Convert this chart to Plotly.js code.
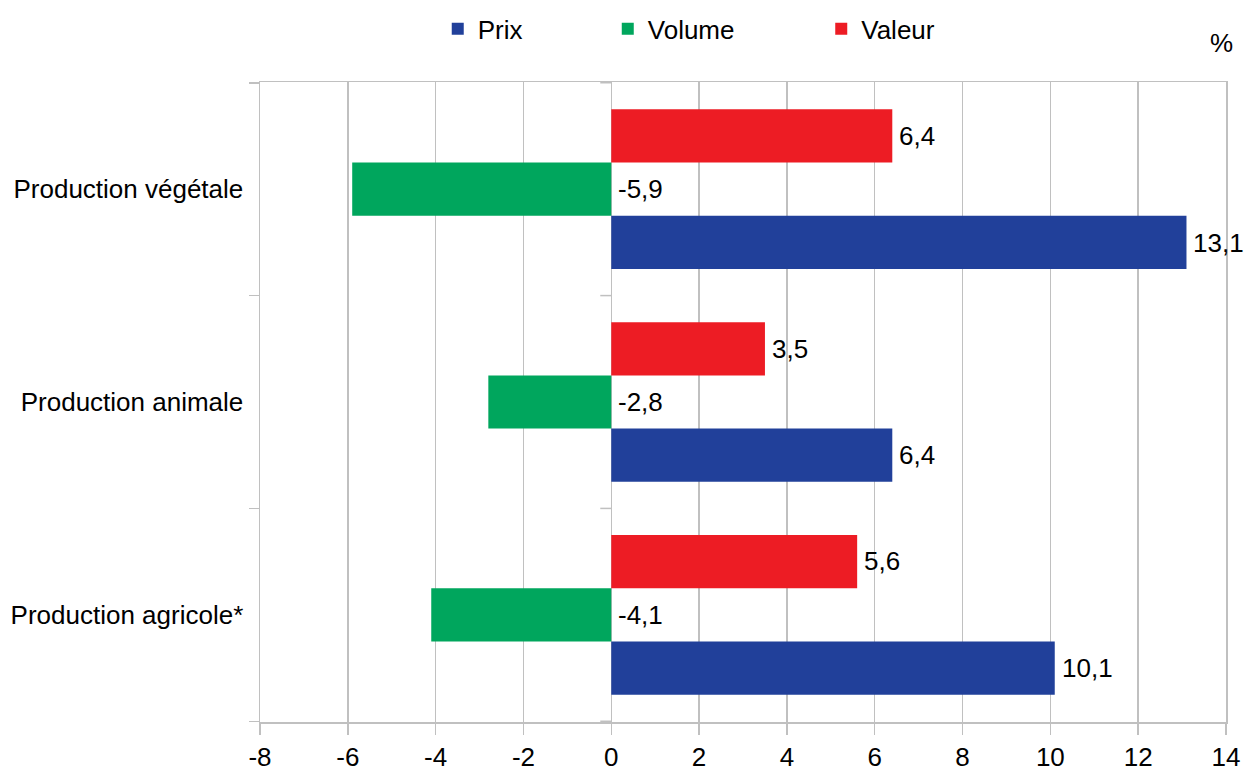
<!DOCTYPE html>
<html>
<head>
<meta charset="utf-8">
<script src="https://cdn.plot.ly/plotly-3.0.1.min.js"></script>
<style>
  html, body { margin: 0; padding: 0; background: #fff; }
  #chart { width: 1246px; height: 770px; }
</style>
</head>
<body>
<div id="chart"></div>
<script>
// Categories, top to bottom
const categories = ['Production végétale', 'Production animale', 'Production agricole*'];

// Annual change, %
const prix   = [13.1, 6.4, 10.1];
const volume = [-5.9, -2.8, -4.1];
const valeur = [6.4, 3.5, 5.6];

const seriesNames  = ['Prix', 'Volume', 'Valeur'];
const seriesColors = ['#21409A', '#00A65D', '#ED1C24'];
const seriesValues = [prix, volume, valeur];

// X axis ticks
const xTicks = [-8, -6, -4, -2, 0, 2, 4, 6, 8, 10, 12, 14];
const xTickLabels = xTicks.map(v => String(v));

const FONT = 'Liberation Sans, Arial, sans-serif';
const FS = 26;
const GRID = '#c0c0c0';

const W = 1246, H = 770;
const margin = { l: 260, r: 20, t: 82, b: 48, pad: 0, autoexpand: false };
const plotH = H - margin.t - margin.b;
const bargap = 0.25;
const barPx = plotH / categories.length * (1 - bargap) / seriesNames.length;

const fmt = v => String(v).replace('.', ',');

const legendIds = ['legend', 'legend2', 'legend3'];
const traces = seriesNames.map((name, k) => ({
  type: 'bar',
  orientation: 'h',
  name: name,
  x: seriesValues[k],
  y: categories,
  marker: { color: seriesColors[k], line: { width: 0 } },
  legend: legendIds[k],
  hoverinfo: 'x+name'
}));

// Value labels: right of the bar end, or right of zero for negative values
const annotations = [];
seriesValues.forEach((vals, k) => {
  vals.forEach((v, i) => {
    annotations.push({
      x: Math.max(v, 0), y: categories[i], xref: 'x', yref: 'y',
      text: fmt(v), showarrow: false,
      xanchor: 'left', yanchor: 'middle',
      xshift: 5, yshift: (k - 1) * barPx,
      font: { family: FONT, size: FS, color: '#000' }
    });
  });
});
annotations.push({
  xref: 'paper', yref: 'paper', x: 0.995, y: 1.061,
  xanchor: 'center', yanchor: 'middle', showarrow: false,
  text: '%', font: { family: FONT, size: FS, color: '#000' }
});

// Boundary tick marks along the zero line
const shapes = [];
for (let i = 0; i <= categories.length; i++) {
  shapes.push({
    type: 'line', xref: 'x', xsizemode: 'pixel', xanchor: 0,
    x0: -11, x1: 0, yref: 'y', y0: i - 0.5, y1: i - 0.5,
    line: { color: GRID, width: 1.5 }
  });
}

const legendBase = {
  orientation: 'h', yanchor: 'middle', xanchor: 'left', y: 1.083,
  font: { family: FONT, size: FS, color: '#000' },
  itemwidth: 30,
  bgcolor: 'rgba(0,0,0,0)', borderwidth: 0
};
const legendX = [0.184, 0.360, 0.581];

const layout = {
  width: W, height: H,
  margin: margin,
  paper_bgcolor: '#fff', plot_bgcolor: '#fff',
  barmode: 'group', bargap: bargap, bargroupgap: 0,
  font: { family: FONT, size: FS, color: '#000' },
  showlegend: true,
  legend:  Object.assign({}, legendBase, { x: legendX[0] }),
  legend2: Object.assign({}, legendBase, { x: legendX[1] }),
  legend3: Object.assign({}, legendBase, { x: legendX[2] }),
  xaxis: {
    range: [-8, 14], tickvals: xTicks, ticktext: xTickLabels,
    showgrid: true, gridcolor: GRID, gridwidth: 1.5,
    zeroline: true, zerolinecolor: GRID, zerolinewidth: 1.5,
    showline: true, linecolor: GRID, linewidth: 1.5, mirror: true,
    ticks: 'outside', ticklen: 11, tickcolor: GRID, tickwidth: 1.5,
    tickfont: { family: FONT, size: FS, color: '#000' },
    automargin: false,
    fixedrange: true
  },
  yaxis: {
    type: 'category',
    categoryorder: 'array', categoryarray: categories.slice().reverse(),
    showgrid: false, zeroline: false,
    showline: true, linecolor: GRID, linewidth: 1.5, mirror: true,
    ticks: 'outside', tickson: 'boundaries', ticklen: 10, tickcolor: GRID, tickwidth: 1.5,
    ticklabelstandoff: 10,
    tickfont: { family: FONT, size: FS, color: '#000' },
    automargin: false,
    fixedrange: true
  },
  annotations: annotations,
  shapes: shapes
};

Plotly.newPlot('chart', traces, layout, { displayModeBar: false, staticPlot: true });
</script>
</body>
</html>
